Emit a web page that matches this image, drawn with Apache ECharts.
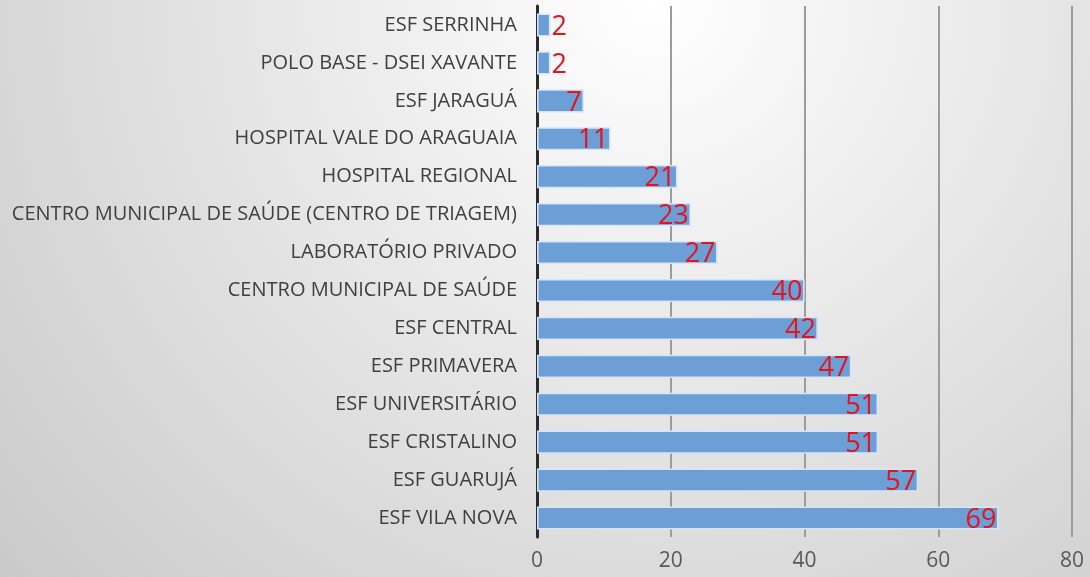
<!DOCTYPE html>
<html>
<head>
<meta charset="utf-8">
<script src="https://cdn.jsdelivr.net/npm/echarts@6/dist/echarts.min.js"></script>
<style>
  html, body { margin: 0; padding: 0; }
  #chart { width: 1090px; height: 577px; }
</style>
</head>
<body>
<div id="chart"></div>
<script>
// categories listed bottom to top (ECharts category axis starts at the bottom)
const units = [
  'ESF VILA NOVA',
  'ESF GUARUJÁ',
  'ESF CRISTALINO',
  'ESF UNIVERSITÁRIO',
  'ESF PRIMAVERA',
  'ESF CENTRAL',
  'CENTRO MUNICIPAL DE SAÚDE',
  'LABORATÓRIO PRIVADO',
  'CENTRO MUNICIPAL DE SAÚDE (CENTRO DE TRIAGEM)',
  'HOSPITAL REGIONAL',
  'HOSPITAL VALE DO ARAGUAIA',
  'ESF JARAGUÁ',
  'POLO BASE - DSEI XAVANTE',
  'ESF SERRINHA'
];
const counts = [69, 57, 51, 51, 47, 42, 40, 27, 23, 21, 11, 7, 2, 2];
const xTicks = [0, 20, 40, 60, 80];

const chart = echarts.init(document.getElementById('chart'));

const option = {
  backgroundColor: new echarts.graphic.RadialGradient(0.6, 0.0, 1.5, [
    { offset: 0, color: '#ffffff' },
    { offset: 0.5, color: '#e4e4e4' },
    { offset: 1, color: '#cacaca' }
  ]),
  textStyle: { fontFamily: 'Open Sans' },
  grid: { left: 537, right: 18, top: 6, bottom: 40, containLabel: false },
  xAxis: {
    type: 'value',
    min: xTicks[0],
    max: xTicks[xTicks.length - 1],
    interval: 20,
    axisLine: { show: false },
    axisTick: { show: false },
    axisLabel: { color: '#595959', fontSize: 21, margin: 14 },
    splitLine: { lineStyle: { color: '#9c9c9c', width: 2 } }
  },
  yAxis: {
    type: 'category',
    data: units,
    axisLine: { show: true, lineStyle: { color: '#2b2b2b', width: 3 } },
    axisTick: { show: false },
    axisLabel: { color: '#404040', fontSize: 20, margin: 20 }
  },
  series: [{
    type: 'bar',
    barCategoryGap: '39%',
    data: counts.map(v => ({
      value: v,
      label: v < 5
        ? { position: 'right', distance: 1 }
        : { position: 'insideRight', distance: 2 }
    })),
    itemStyle: { color: '#6c9fd6', borderColor: '#d6e5f5', borderWidth: 1.5 },
    label: { show: true, color: '#e3141e', fontSize: 27, offset: [0, 2] }
  }]
};

chart.setOption(option);
</script>
</body>
</html>
